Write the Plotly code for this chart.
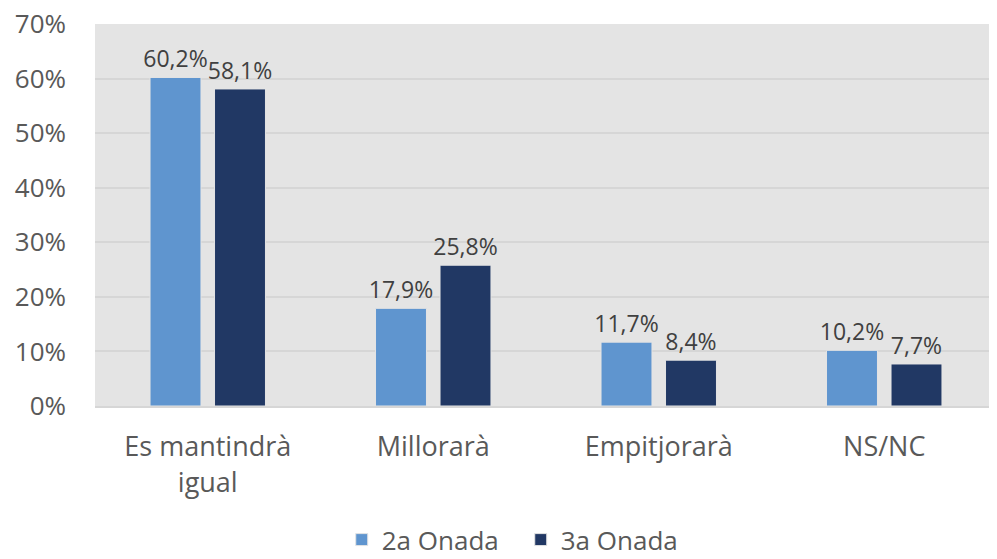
import plotly.graph_objects as go

categories = ["Es mantindrà<br>igual", "Millorarà", "Empitjorarà", "NS/NC"]
series_names = ["2a Onada", "3a Onada"]
onada2 = [60.2, 17.9, 11.7, 10.2]
onada3 = [58.1, 25.8, 8.4, 7.7]
colors = ["#5f95cf", "#213864"]
y_ticks = [0, 10, 20, 30, 40, 50, 60, 70]

FONT = "Open Sans"

fig = go.Figure()
for name, vals, col in zip(series_names, [onada2, onada3], colors):
    fig.add_trace(go.Bar(
        x=categories, y=vals, name=name,
        marker=dict(color=col, line=dict(color="#e4e4e4", width=1)),
        text=[f"{v:.1f}%".replace(".", ",") for v in vals],
        textposition="outside", cliponaxis=False, constraintext="none",
        textfont=dict(family=FONT, size=23, color="#404040"),
    ))

fig.update_layout(
    width=989, height=551,
    margin=dict(l=87, r=0, t=16, b=153, autoexpand=False),
    paper_bgcolor="white", plot_bgcolor="#e4e4e4",
    barmode="group", bargap=0.428, bargroupgap=0.21,
    font=dict(family=FONT, color="#595959"),
    showlegend=True,
    legend=dict(orientation="h", x=0.472, xanchor="center", y=-0.35, yanchor="middle",
                font=dict(family=FONT, size=26, color="#595959"),
                entrywidth=134, traceorder="normal"),
)
fig.update_yaxes(range=[0, 70], tickvals=y_ticks, ticktext=[f"{t}%" for t in y_ticks],
                 showgrid=True, gridcolor="#d6d6d6", gridwidth=2,
                 zeroline=False, showline=False, ticks="", automargin=False,
                 ticklabelstandoff=28, ticklabeloverflow="allow",
                 tickfont=dict(family=FONT, size=26, color="#595959"))
fig.update_xaxes(showline=True, linecolor="#d6d6d6", linewidth=2, ticks="", automargin=False,
                 ticklabelstandoff=16, ticklabeloverflow="allow",
                 tickfont=dict(family=FONT, size=27, color="#595959"))

fig.write_html("out.html")
